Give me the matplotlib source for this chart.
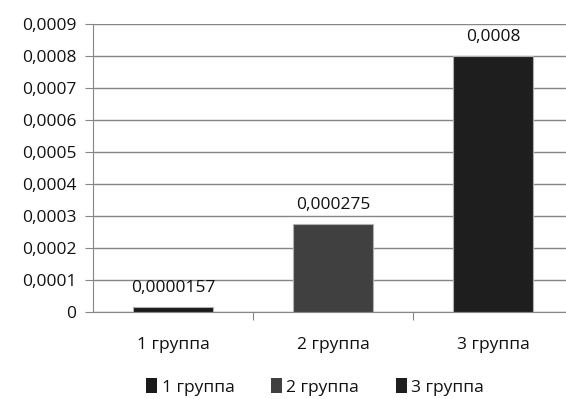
import matplotlib.pyplot as plt
from matplotlib.patches import Patch

plt.rcParams['font.family'] = ['Open Sans', 'DejaVu Sans']
plt.rcParams['text.color'] = '#111111'
plt.rcParams['xtick.labelcolor'] = '#111111'
plt.rcParams['ytick.labelcolor'] = '#111111'

groups = ['1 группа', '2 группа', '3 группа']
values = [0.0000157, 0.000275, 0.0008]
value_labels = ['0,0000157', '0,000275', '0,0008']
colors = ['#1a1a1a', '#404040', '#1e1e1e']
y_ticks = [0, 0.0001, 0.0002, 0.0003, 0.0004, 0.0005, 0.0006, 0.0007, 0.0008, 0.0009]
y_tick_labels = ['0', '0,0001', '0,0002', '0,0003', '0,0004', '0,0005',
                 '0,0006', '0,0007', '0,0008', '0,0009']

fig = plt.figure(figsize=(5.66, 3.99), dpi=100)
ax = fig.add_axes([93 / 566, 87 / 399, 480 / 566, 288 / 399])

x = range(len(groups))
ax.bar(x, values, width=0.5, color=colors, edgecolor='#b0b0b0', linewidth=0.8, zorder=3)

for i, v in enumerate(values):
    ax.annotate(value_labels[i], (i, v), xytext=(0, 8), textcoords='offset points',
                ha='center', va='bottom', fontsize=12.5)

ax.set_xlim(-0.5, 2.5)
ax.set_ylim(0, 0.0009)
ax.set_yticks(y_ticks)
ax.set_yticklabels(y_tick_labels)
# group separators as major ticks, group names as minor tick labels
ax.set_xticks([0.5, 1.5])
ax.set_xticklabels([])
ax.set_xticks(list(x), minor=True)
ax.set_xticklabels(groups, minor=True)
ax.tick_params(axis='x', which='minor', length=0, pad=18, labelsize=12.5)
ax.tick_params(axis='x', which='major', length=6, color='#868686', direction='out')
ax.tick_params(axis='y', length=6, color='#868686', labelsize=12.5, pad=6)

ax.grid(axis='y', color='#868686', linewidth=1, zorder=0)
for side in ['top', 'right']:
    ax.spines[side].set_visible(False)
ax.spines['left'].set_color('#868686')
ax.spines['bottom'].set_color('#868686')

handles = [Patch(facecolor=c, label=g) for c, g in zip(colors, groups)]
fig.legend(handles=handles, loc='center', bbox_to_anchor=(315 / 566, 1 - 387 / 399),
           ncol=3, frameon=False, fontsize=12.5, handlelength=0.65, handleheight=0.88,
           handletextpad=0.25, columnspacing=2.1, borderpad=0)

fig.savefig('out.png', dpi=100)
